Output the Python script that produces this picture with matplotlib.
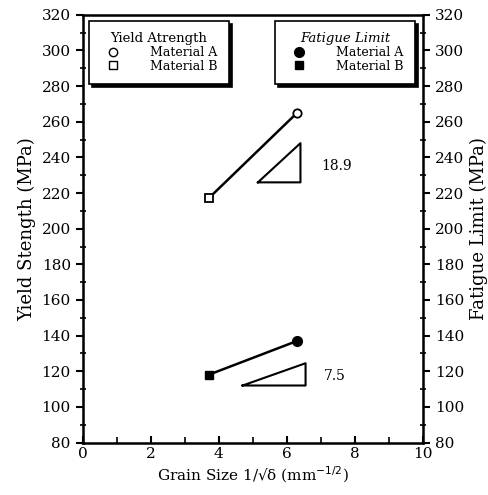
import numpy as np
import matplotlib
matplotlib.use("Agg")
import matplotlib.pyplot as plt
from matplotlib.lines import Line2D
from matplotlib.ticker import MultipleLocator

plt.rcParams['font.family'] = ['DejaVu Serif']

# grain size 1/sqrt(d) for material B and A
grain = [3.7, 6.3]
yield_vals = [217, 265]
fatigue_vals = [118, 137]

# slope triangles
tri_ys_x = [5.15, 6.4, 6.4, 5.15]
tri_ys_y = [226, 226, 248, 226]
tri_fl_x = [4.7, 6.55, 6.55, 4.7]
tri_fl_y = [112, 112, 124.5, 112]
slope_ys = "18.9"
slope_fl = "7.5"

fig = plt.figure(figsize=(4.89, 4.95), dpi=100)
ax = fig.add_axes([0.169, 0.106, 0.696, 0.864])
ax.set_xlim(0, 10)
ax.set_ylim(80, 320)

ax.plot(grain, yield_vals, color="black", lw=1.8)
ax.plot(grain[1], yield_vals[1], "o", mfc="white", mec="black", ms=6, mew=1.3)
ax.plot(grain[0], yield_vals[0], "s", mfc="white", mec="black", ms=6, mew=1.3)
ax.plot(grain, fatigue_vals, color="black", lw=1.8)
ax.plot(grain[1], fatigue_vals[1], "o", color="black", ms=7)
ax.plot(grain[0], fatigue_vals[0], "s", color="black", ms=6)

ax.plot(tri_ys_x, tri_ys_y, color="black", lw=1.5)
ax.plot(tri_fl_x, tri_fl_y, color="black", lw=1.5)
ax.text(7.0, 235, slope_ys, fontsize=10, va="center")
ax.text(7.1, 117.5, slope_fl, fontsize=10, va="center")

ax.xaxis.set_major_locator(MultipleLocator(2))
ax.xaxis.set_minor_locator(MultipleLocator(1))
ax.yaxis.set_major_locator(MultipleLocator(20))
ax.yaxis.set_minor_locator(MultipleLocator(10))
for s in ax.spines.values():
    s.set_linewidth(1.8)
ax.tick_params(which="major", direction="out", length=5, width=1.5, labelsize=11)
ax.tick_params(which="minor", direction="inout", length=4, width=1.2)
ax.tick_params(axis="x", which="both", direction="in")
ax.set_xlabel("Grain Size 1/\u221a\u03b4 (mm$^{-1/2}$)", fontsize=11, labelpad=2)
ax.set_ylabel("Yield Stength (MPa)", fontsize=13)

ax2 = ax.twinx()
ax2.set_ylim(80, 320)
ax2.yaxis.set_major_locator(MultipleLocator(20))
ax2.yaxis.set_minor_locator(MultipleLocator(10))
ax2.tick_params(which="major", direction="out", length=5, width=1.5, labelsize=11)
ax2.tick_params(which="minor", direction="inout", length=4, width=1.2)
ax2.set_ylabel("Fatigue Limit (MPa)", fontsize=13)

h1 = [Line2D([], [], ls="", marker="o", mfc="white", mec="black", ms=6),
      Line2D([], [], ls="", marker="s", mfc="white", mec="black", ms=6)]
h2 = [Line2D([], [], ls="", marker="o", color="black", ms=7),
      Line2D([], [], ls="", marker="s", color="black", ms=6)]
labels = ["Material A", "Material B"]
shadow = {"color": "black", "alpha": 1, "ox": 2, "oy": -2}

leg1 = ax2.legend(h1, labels, title="Yield Atrength", loc="upper left",
                  bbox_to_anchor=(0.0, 1.0), fontsize=9, title_fontsize=9.5,
                  fancybox=False, shadow=shadow, edgecolor="black",
                  handletextpad=2.0, labelspacing=0.05, borderpad=0.9)
leg1.get_frame().set_linewidth(1.2)
ax2.add_artist(leg1)
leg2 = ax2.legend(h2, labels, title="Fatigue Limit", loc="upper right",
                  bbox_to_anchor=(0.995, 1.0), fontsize=9, title_fontsize=9.5,
                  fancybox=False, shadow=shadow, edgecolor="black",
                  handletextpad=2.0, labelspacing=0.05, borderpad=0.9)
leg2.get_frame().set_linewidth(1.2)
leg2.get_title().set_fontstyle("italic")

fig.savefig("out.png", dpi=100)
